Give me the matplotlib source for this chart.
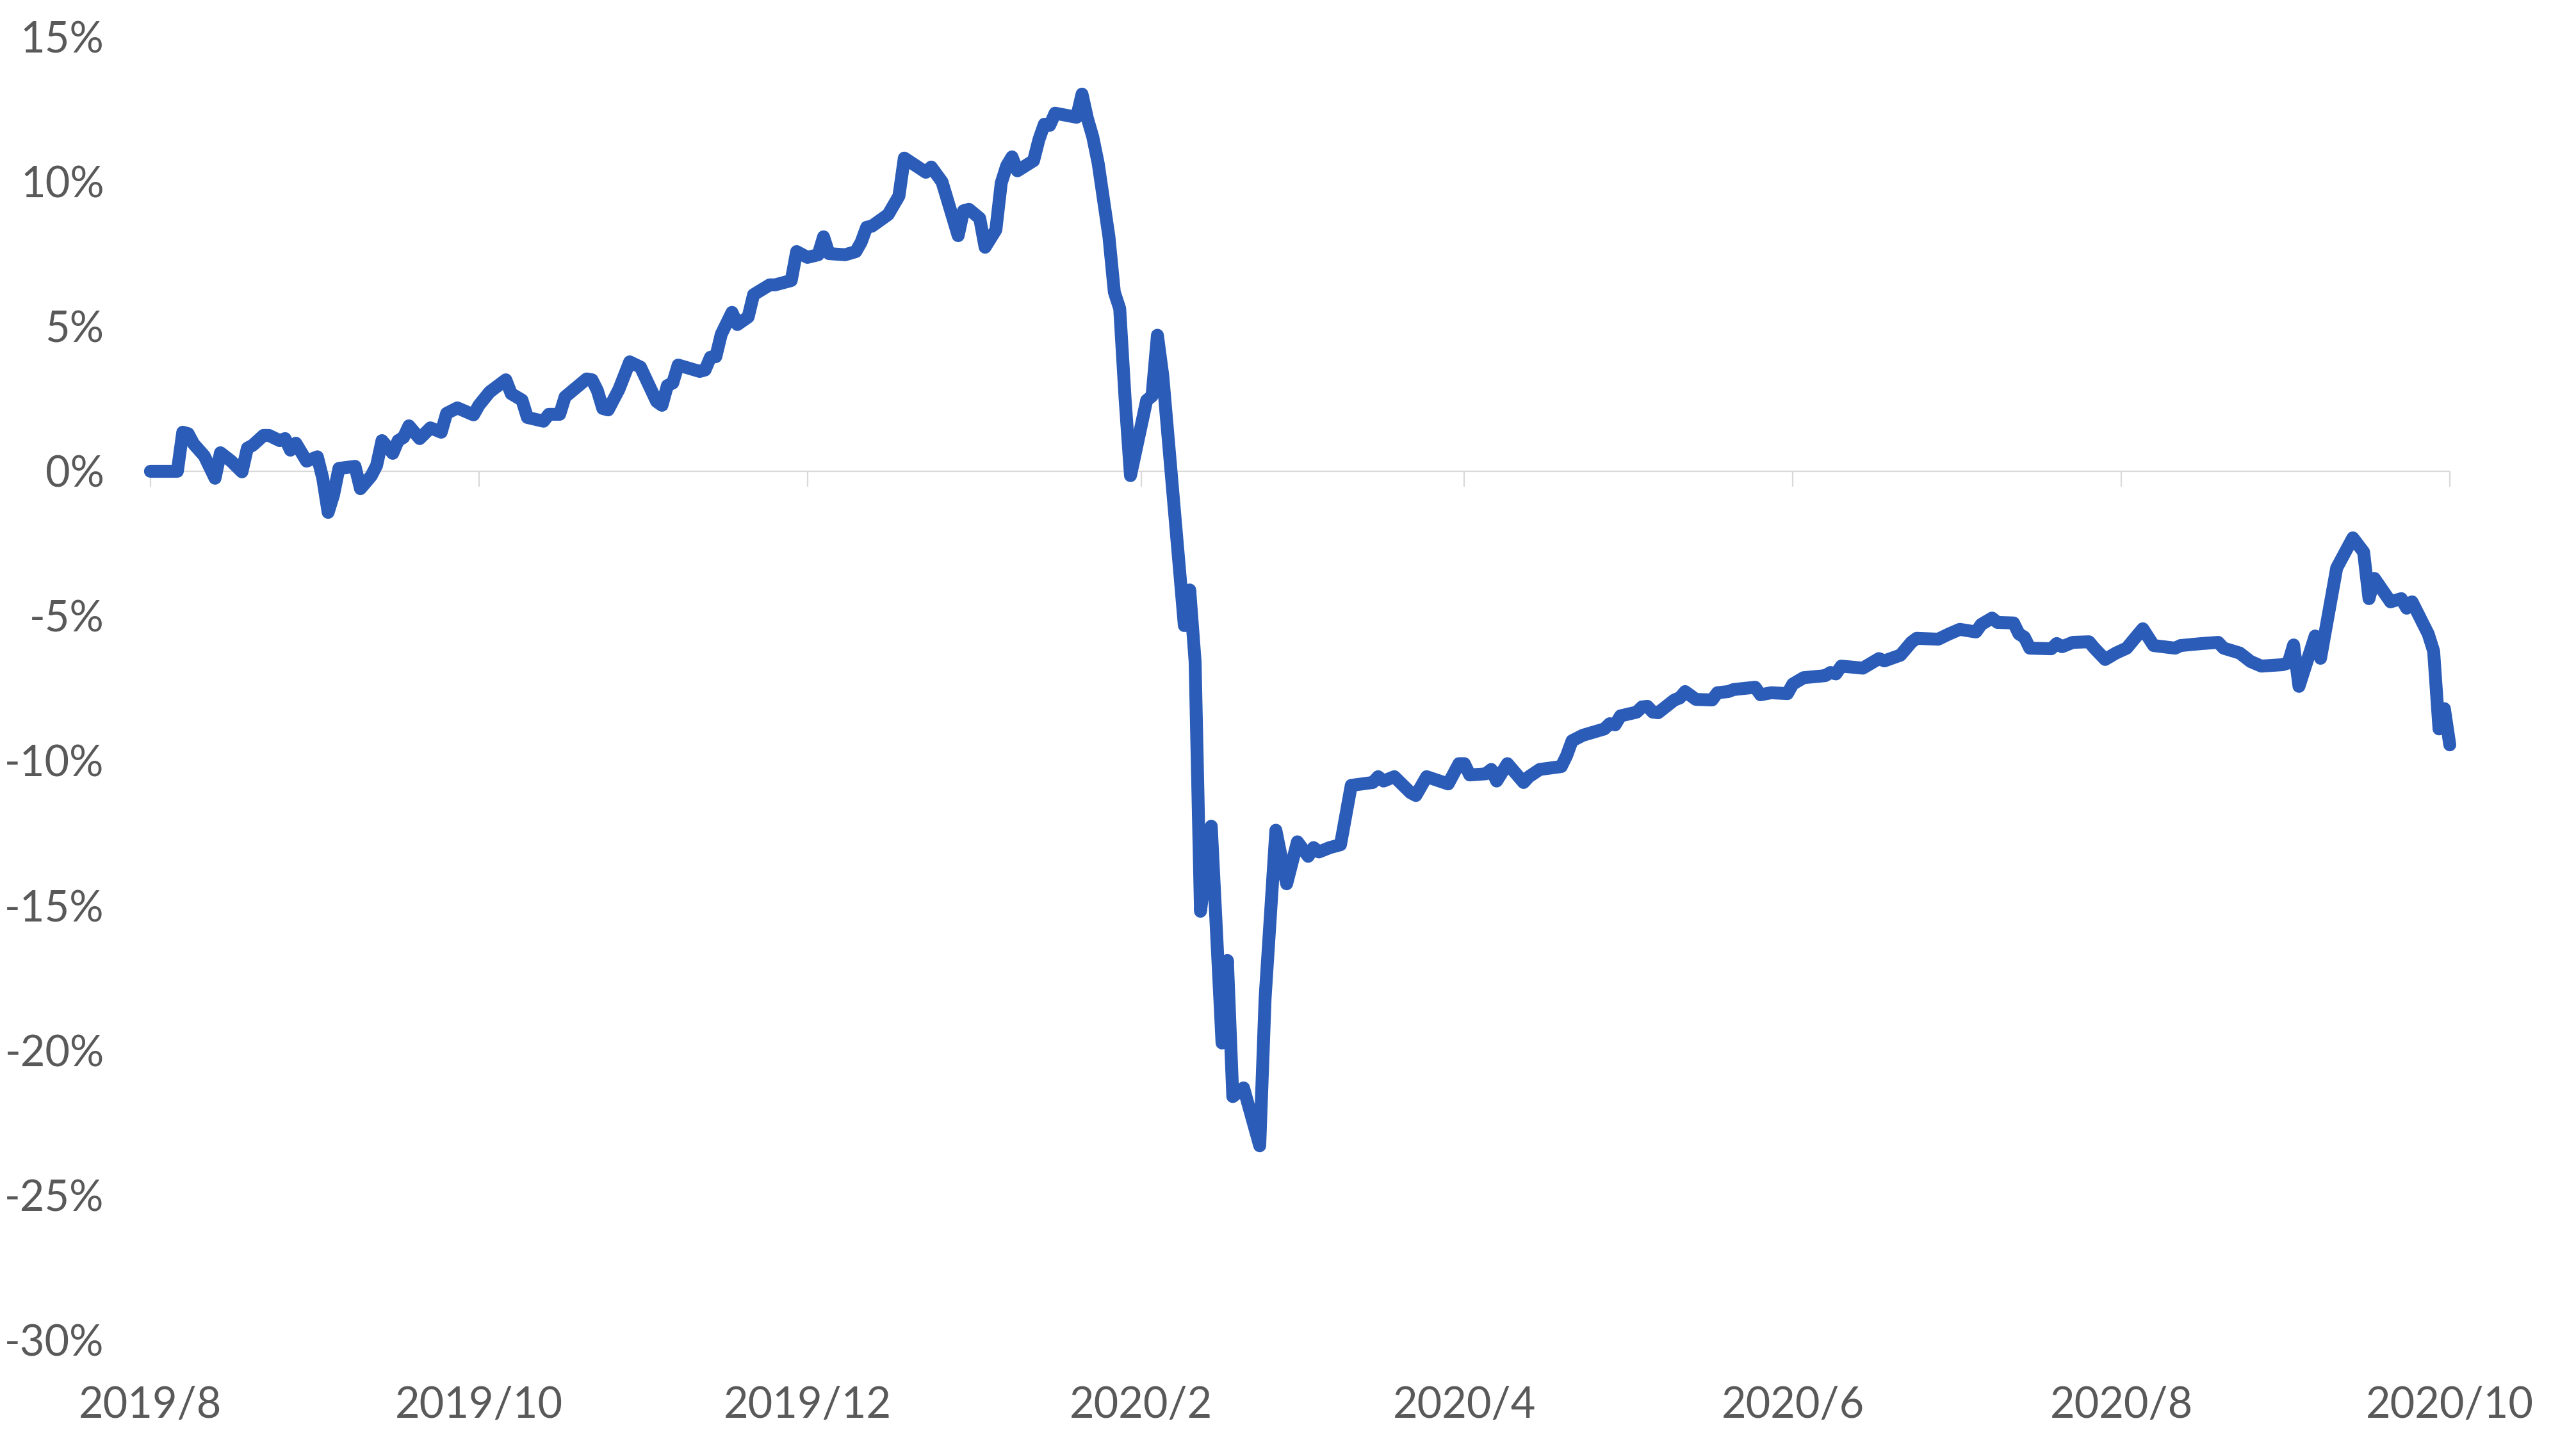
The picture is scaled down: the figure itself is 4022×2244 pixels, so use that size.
import numpy as np
import pandas as pd
import matplotlib
matplotlib.use("Agg")
import matplotlib.pyplot as plt
from matplotlib.ticker import FuncFormatter

# series: days after 2019-08-01 and cumulative return in %
start = pd.Timestamp("2019-08-01")
end = pd.Timestamp("2020-10-01")

day_offset = [
    0, 5, 6, 7, 8, 10, 12, 13, 15, 17, 18, 19, 21, 22, 24, 25, 26, 27, 29, 31,
    32, 33, 34, 35, 38, 39, 41, 42, 43, 45, 46, 47, 48, 50, 52, 54, 55, 57, 60,
    61, 63, 66, 67, 69, 70, 73, 74, 76, 77, 81, 82, 83, 84, 85, 87, 89, 91, 94,
    95, 96, 97, 98, 102, 103, 104, 105, 106, 108, 109, 111, 112, 115, 116, 119, 120,
    122, 124, 125, 126, 129, 131, 132, 133, 134, 137, 139, 140, 144, 145, 147, 150,
    151, 152, 154, 155, 157, 158, 159, 160, 161, 164, 165, 166, 167, 168, 172, 173,
    174, 175, 176, 178, 179, 180, 181, 182,
    185, 186, 187, 188, 192, 193, 194, 195, 197, 199, 200, 201, 203, 206, 207, 209,
    211, 213, 215, 216, 217, 219, 221, 223, 227, 228, 229, 231, 234, 235, 237, 241, 243,
    244, 245, 248, 249, 250, 252, 255, 256, 258, 262, 263, 264, 266, 270, 271, 272,
    273, 276, 277, 278, 279, 280, 283, 284, 285, 287, 290, 291, 293, 294, 298, 299,
    301, 304, 305,
    307, 311, 312, 313, 314, 318, 321, 322, 325, 327, 328, 332, 334, 336, 339, 340,
    342, 343, 346, 347, 348, 349, 353, 354, 355, 357, 360, 361, 363, 365, 367, 369,
    370, 372, 376, 377, 381, 384, 385, 388, 390, 392, 396, 397, 398, 399, 402, 403,
    406, 409, 411, 412, 413, 416, 418, 419, 420, 423, 424, 425, 426, 427,
]

pct = [
    0.0, 0.0, 1.35, 1.3, 0.95, 0.53, -0.24, 0.64, 0.35, -0.02, 0.8, 0.9, 1.24, 1.24,
    1.06, 1.13, 0.73, 0.97, 0.35, 0.5, -0.24, -1.42, -0.82, 0.1, 0.17, -0.6, -0.16,
    0.2, 1.06, 0.62, 1.06, 1.17, 1.57, 1.13, 1.5, 1.35, 2.0, 2.19, 1.95,
    2.28, 2.74, 3.16, 2.68, 2.46, 1.86, 1.73, 1.97, 1.97, 2.57, 3.19, 3.16, 2.79,
    2.17, 2.12, 2.83, 3.78, 3.6, 2.41, 2.28, 2.96, 3.05, 3.67, 3.45, 3.5, 3.94, 3.96,
    4.73, 5.49, 5.07, 5.33, 6.1, 6.44, 6.44, 6.59, 7.59,
    7.39, 7.48, 8.1, 7.52, 7.48, 7.59, 7.92, 8.43, 8.47, 8.87, 9.51, 10.82, 10.33,
    10.51, 10.0, 8.14, 9.0, 9.05, 8.74, 7.74, 8.34, 9.96, 10.55, 10.86, 10.38, 10.73,
    11.46, 11.99, 11.95, 12.37, 12.23, 13.03, 12.19, 11.55, 10.64, 8.1, 6.19, 5.62,
    2.5, -0.15,
    2.45, 2.6, 4.7, 3.3, -5.33, -4.1, -6.57, -15.2, -12.26, -19.75, -16.9, -21.6,
    -21.3, -23.3, -18.2, -12.4, -14.25, -12.8, -13.3, -13.0, -13.15, -13.0, -12.9,
    -10.85, -10.75, -10.55, -10.7, -10.55, -11.1, -11.2, -10.55, -10.8, -10.1,
    -10.1, -10.49, -10.45, -10.3, -10.7, -10.1, -10.75, -10.55, -10.3, -10.2, -9.82,
    -9.31, -9.12, -8.9, -8.72, -8.76, -8.45, -8.32, -8.14, -8.12, -8.32, -8.34, -7.9,
    -7.83, -7.61, -7.88, -7.9, -7.65, -7.61, -7.54, -7.46, -7.72, -7.65, -7.68, -7.35,
    -7.13, -7.06, -6.95, -7.0, -6.73, -6.8, -6.47, -6.55, -6.35, -5.91, -5.77, -5.8,
    -5.62, -5.46, -5.55, -5.29, -5.07, -5.22, -5.24, -5.62, -5.73, -6.11, -6.13,
    -5.95, -6.06, -5.91, -5.89, -6.11, -6.5, -6.28, -6.11, -5.66, -5.44, -6.02,
    -6.11, -6.02, -5.95, -5.91, -6.11, -6.28, -6.57, -6.73, -6.68, -6.62, -6.0,
    -7.43, -5.69, -6.46, -3.34, -2.3, -2.79, -4.4, -3.7, -4.51, -4.4, -4.73, -4.51,
    -5.62, -6.21, -8.9, -8.2, -9.45,
]

tick_dates = ["2019-08-01", "2019-10-01", "2019-12-01", "2020-02-01",
              "2020-04-01", "2020-06-01", "2020-08-01", "2020-10-01"]
tick_labels = ["2019/8", "2019/10", "2019/12", "2020/2",
               "2020/4", "2020/6", "2020/8", "2020/10"]
y_ticks = [15, 10, 5, 0, -5, -10, -15, -20, -25, -30]

dates = start + pd.to_timedelta(day_offset, unit="D")
ticks = pd.to_datetime(tick_dates)

plt.rcParams["font.family"] = ["Lato", "DejaVu Sans"]
text_color = "#595959"
grid_color = "#D9D9D9"

fig = plt.figure(figsize=(40.22, 22.44), dpi=100)
ax = fig.add_axes([0.0584, 0.0677, 0.8926, 0.9065])

ax.axhline(0, color=grid_color, lw=1.6, zorder=1)
ax.plot(dates, pct, color="#2B5CB8", lw=14.5,
        solid_joinstyle="round", solid_capstyle="round",
        clip_on=False, zorder=3)

ax.set_xlim(start, end)
ax.set_ylim(-30, 15)

ax.set_xticks(ticks)
ax.set_xticklabels(tick_labels)
ax.tick_params(axis="x", length=0, pad=52, labelsize=48, labelcolor=text_color)

ax.set_yticks(y_ticks)
ax.yaxis.set_major_formatter(FuncFormatter(lambda v, p: f"{v:.0f}%"))
ax.tick_params(axis="y", length=0, pad=52, labelsize=48, labelcolor=text_color)

for s in ax.spines.values():
    s.set_visible(False)

# tick marks hanging under the zero line
sec = ax.secondary_xaxis(30 / 45)
sec.set_alignment("bottom")
sec.set_xticks(ticks)
sec.tick_params(axis="x", direction="out", length=17, width=1.6,
                color=grid_color, labelbottom=False, labeltop=False)
for s in sec.spines.values():
    s.set_visible(False)

fig.savefig("out.png", dpi=100)
